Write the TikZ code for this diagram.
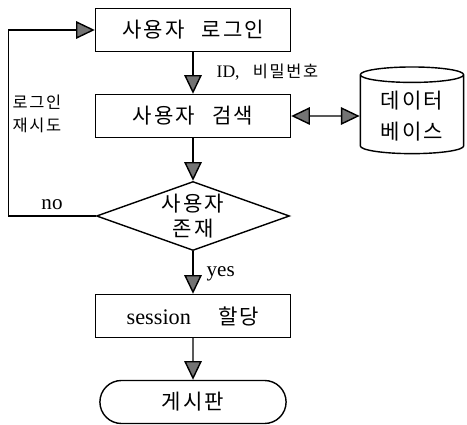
\documentclass[tikz,border=0pt]{standalone}
\usepackage{fontspec}
\setmainfont{Liberation Serif}
\newfontfamily\kr[LetterSpace=10,WordSpace=2.5]{Noto Sans CJK KR}
\usetikzlibrary{graphs,arrows.meta,shapes.geometric,shapes.misc}

\begin{document}
\begin{tikzpicture}[x=0.03cm,y=-0.03cm,line width=1.2pt,
    >={Triangle[width=15pt,length=16pt,fill=black!55]},
    box/.style={draw,minimum width=5.85cm,minimum height=1.29cm,inner sep=0pt,
      font=\kr\fontsize{18}{22}\selectfont},
    decision/.style={draw,diamond,aspect=2.8,inner sep=0pt,align=center,
      minimum width=5.79cm,minimum height=2.07cm,font=\kr\fontsize{18}{22}\selectfont},
    store/.style={draw,cylinder,shape border rotate=90,aspect=0.22,align=center,
      minimum width=3.1cm,minimum height=2.6cm,font=\kr\fontsize{18}{27}\selectfont},
    terminal/.style={draw,rounded rectangle,minimum width=5.82cm,minimum height=1.29cm,
      font=\kr\fontsize{18}{22}\selectfont},
    note/.style={inner sep=0pt,font=\kr\fontsize{14}{20}\selectfont},
    latin/.style={inner sep=0pt,font=\fontsize{18}{20}\selectfont}]
      \useasboundingbox (0,0) rectangle (467,425);

      \node[box] (login) at (193,30) {사용자 로그인};
      \node[box] (search) at (193,116) {사용자 검색};
      \node[decision] (exist) at (193,216) {사용자\\존재};
      \node[box] (session) at (193,316) {{\rmfamily\fontsize{19}{22}\selectfont session}\hspace{1.3em}할당};
      \node[terminal] (board) at (193,402) {게시판};
      \node[store] (db) at (412,116) {데이터\\베이스};

      \node[note,anchor=west] (idpw) at (216,72) {{\rmfamily\fontsize{15}{16}\selectfont ID,} 비밀번호};
      \node[note,anchor=west,align=left] (retry) at (12,114) {로그인\\재시도};
      \node[latin] (no) at (52,205) {no};
      \node[latin,anchor=west] (yes) at (206,274) {yes};

      \graph{
        (login) -> (search) -> (exist) -> (session) -> (board);
        (search) <-> (db)
      };
      \draw[->] (exist.west) -- ++(-87,0) |- (login.west);
    \end{tikzpicture}
\end{document}
